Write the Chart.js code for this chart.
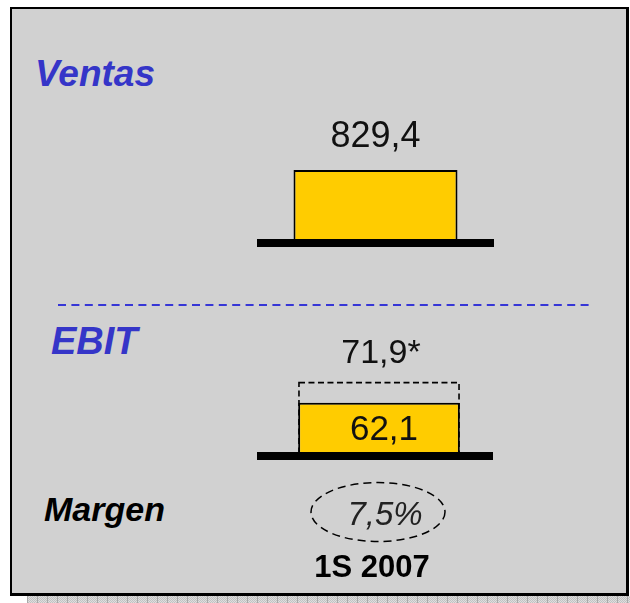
<!DOCTYPE html>
<html>
<head>
<meta charset="utf-8">
<script src="https://cdn.jsdelivr.net/npm/chart.js@4.4.1/dist/chart.umd.min.js"></script>
<style>
  html, body { margin: 0; padding: 0; width: 630px; height: 603px; overflow: hidden; background: #ffffff; }
  #frame { position: absolute; left: 10px; top: 7px; width: 619px; height: 589px; box-sizing: border-box;
           background: #d1d1d1; border-style: solid; border-color: #000; border-width: 2px 3px 3px 2px; }
  #shadow { position: absolute; left: 27px; top: 596px; width: 603px; height: 7px;
            background: repeating-linear-gradient(90deg, #a9a9a9 0 1px, transparent 1px 10px),
                        repeating-conic-gradient(#c2c2c2 0 25%, #dedede 0 50%) 0 0 / 2px 2px; }
  .title { position: absolute; font-family: "Liberation Sans", Arial, sans-serif; font-weight: bold;
           font-style: italic; line-height: 1; white-space: nowrap; }
  canvas { position: absolute; left: 0; top: 0; }
  svg { position: absolute; left: 0; top: 0; }
</style>
</head>
<body>
<div id="shadow"></div>
<div id="frame"></div>
<svg width="630" height="603">
  <line x1="58" y1="305" x2="593" y2="305" stroke="#3636d6" stroke-width="1.8" stroke-dasharray="8 5.4"/>
</svg>
<div class="title" style="left:35px; top:55.4px; font-size:37px; color:#3535c8;">Ventas</div>
<div class="title" style="left:51px; top:321.8px; font-size:38px; color:#3535c8;">EBIT</div>
<div class="title" style="left:44px; top:491.9px; font-size:34px; color:#000;">Margen</div>
<canvas id="ventasChart" width="630" height="603"></canvas>
<canvas id="ebitChart" width="630" height="700"></canvas>
<script>
// ---- data ----
const periods = ['1S 2007'];
const ventas = [829.4];
const ebit = [62.1];
const ebitAdjusted = [71.9];
const margen = [7.5];

const FONT = '"Liberation Sans", Arial, sans-serif';
const fmt = v => v.toFixed(1).replace('.', ',');

// thick baseline under the bars
const baselinePlugin = {
  id: 'baseline',
  afterDatasetsDraw(chart, args, opts) {
    const {ctx, chartArea, scales} = chart;
    const y0 = scales.y.getBasePixel();
    ctx.save();
    ctx.fillStyle = '#000';
    ctx.fillRect(chartArea.left + (opts.shift || 0), y0, chartArea.right - chartArea.left, opts.thickness || 8);
    ctx.restore();
  }
};

// dashed outline for datasets flagged as "dashed"
const dashedBoxPlugin = {
  id: 'dashedBox',
  beforeDatasetsDraw(chart) {
    const {ctx, chartArea} = chart;
    chart.data.datasets.forEach((ds, i) => {
      if (!ds.dashed) return;
      chart.getDatasetMeta(i).data.forEach(el => {
        const p = el.getProps(['x', 'y', 'base', 'width'], true);
        const bottom = Math.min(p.base, chartArea.bottom);
        ctx.save();
        ctx.strokeStyle = '#000';
        ctx.lineWidth = 1.6;
        ctx.setLineDash([6, 3.5]);
        ctx.strokeRect(p.x - p.width / 2 + 0.8, p.y + 0.8, p.width - 1.6, bottom - p.y);
        ctx.restore();
      });
    });
  }
};

// value labels
const valueLabelPlugin = {
  id: 'valueLabels',
  afterDatasetsDraw(chart) {
    const {ctx} = chart;
    chart.data.datasets.forEach((ds, i) => {
      if (!ds.label_pos) return;
      chart.getDatasetMeta(i).data.forEach((el, j) => {
        const p = el.getProps(['x', 'y'], true);
        const txt = fmt(ds.data[j]) + (ds.label_suffix || '');
        ctx.save();
        ctx.fillStyle = '#111';
        ctx.font = (ds.label_size || 34) + 'px ' + FONT;
        ctx.textAlign = 'center';
        ctx.textBaseline = 'alphabetic';
        const y = ds.label_pos === 'inside' ? p.y + 37 : p.y - ds.label_gap;
        ctx.fillText(txt, p.x + (ds.label_dx || 0), y);
        ctx.restore();
      });
    });
  }
};

// margin ellipse under the EBIT bar
const marginPlugin = {
  id: 'margin',
  afterDraw(chart) {
    const {ctx, chartArea, scales} = chart;
    periods.forEach((p, j) => {
      const x = scales.x.getPixelForValue(j) - 1;
      const y = chartArea.bottom + 60;
      ctx.save();
      ctx.strokeStyle = '#000';
      ctx.lineWidth = 1.5;
      ctx.setLineDash([8, 5]);
      ctx.beginPath();
      ctx.ellipse(x, y, 67, 29.5, 0, 0, Math.PI * 2);
      ctx.stroke();
      ctx.setLineDash([]);
      ctx.fillStyle = '#222';
      ctx.font = 'italic 33px ' + FONT;
      ctx.textAlign = 'center';
      ctx.textBaseline = 'alphabetic';
      ctx.fillText(fmt(margen[j]) + '%', x + 7, y + 13);
      ctx.restore();
    });
  }
};

const common = {
  responsive: false,
  animation: false,
  events: [],
  plugins: { legend: { display: false }, tooltip: { enabled: false } }
};

new Chart(document.getElementById('ventasChart'), {
  type: 'bar',
  data: {
    labels: periods,
    datasets: [{
      data: ventas,
      backgroundColor: '#ffcc00',
      borderColor: '#000',
      borderWidth: 2,
      borderSkipped: 'start',
      categoryPercentage: 1,
      barPercentage: 0.692,
      label_pos: 'top',
      label_gap: 23,
      label_size: 36
    }]
  },
  options: Object.assign({}, common, {
    layout: { padding: { left: 257, right: 136, top: 105.9, bottom: 364 } },
    scales: {
      x: { display: false },
      y: { display: false, min: 0, max: 1600 }
    },
    plugins: Object.assign({}, common.plugins, { baseline: { thickness: 8, shift: 0 } })
  }),
  plugins: [baselinePlugin, valueLabelPlugin]
});

new Chart(document.getElementById('ebitChart'), {
  type: 'bar',
  data: {
    labels: periods,
    datasets: [{
      data: ebit,
      backgroundColor: '#ffcc00',
      borderColor: '#000',
      borderWidth: 2,
      borderSkipped: 'start',
      categoryPercentage: 1,
      barPercentage: 0.685,
      grouped: false,
      order: 1,
      label_pos: 'inside',
      label_size: 35,
      label_dx: 5
    }, {
      data: ebitAdjusted,
      backgroundColor: 'rgba(0,0,0,0)',
      borderWidth: 0,
      categoryPercentage: 1,
      barPercentage: 0.685,
      grouped: false,
      order: 2,
      dashed: true,
      label_pos: 'top',
      label_gap: 19,
      label_size: 34,
      label_suffix: '*',
      label_dx: 2
    }]
  },
  options: Object.assign({}, common, {
    layout: { padding: { left: 261, right: 133, top: 210.9, bottom: 15.2 } },
    scales: {
      x: {
        display: true,
        grid: { display: false, drawTicks: false },
        border: { display: false },
        ticks: { color: '#000', padding: 97.8, labelOffset: -7, font: { family: FONT, size: 31, weight: 'bold' } }
      },
      y: { display: false, min: 39, max: 152 }
    },
    plugins: Object.assign({}, common.plugins, { baseline: { thickness: 8, shift: -4 } })
  }),
  plugins: [dashedBoxPlugin, baselinePlugin, valueLabelPlugin, marginPlugin]
});
</script>
</body>
</html>
